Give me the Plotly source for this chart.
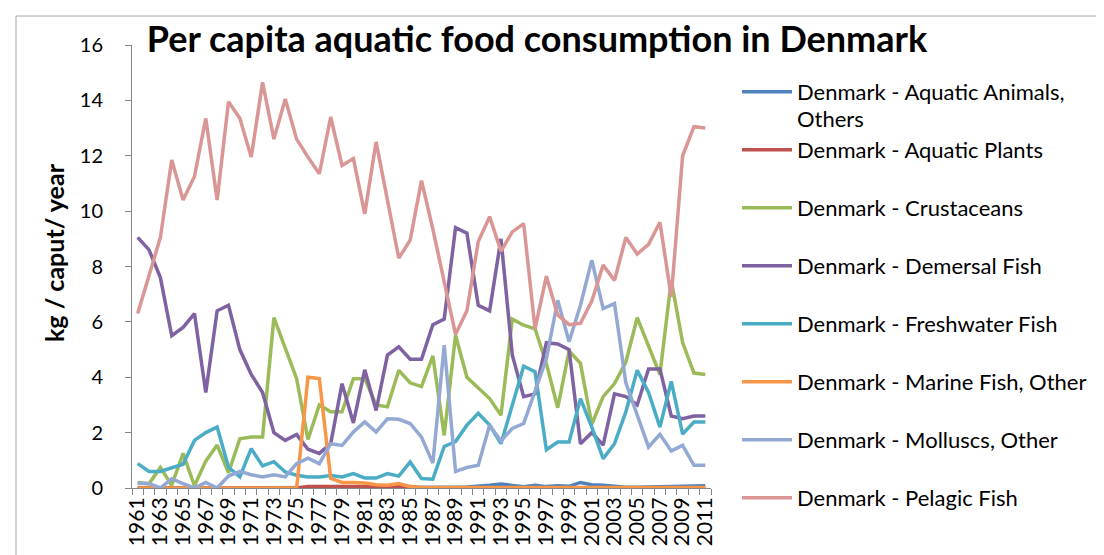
import plotly.graph_objects as go

years = list(range(1961, 2012))

aquatic_animals = [0]*15 + [0.03]*10 + [0.02, 0.02, 0.03, 0.03, 0.04, 0.06, 0.1, 0.14, 0.1, 0.05,
                                        0.1, 0.05, 0.08, 0.06, 0.2, 0.12, 0.1, 0.05, 0.03, 0.03,
                                        0.04, 0.05, 0.05, 0.07, 0.08, 0.08]
aquatic_plants = [0]*15 + [0.05]*10 + [0]*26
crustaceans = [0.2, 0.15, 0.74, 0.1, 1.25, 0.08, 0.97, 1.55, 0.55, 1.78,
               1.84, 1.84, 6.15, 5.07, 3.95, 1.75, 3.0, 2.75, 2.75, 3.95,
               3.95, 3.0, 2.93, 4.25, 3.8, 3.66, 4.77, 1.9, 5.52, 4.0,
               3.6, 3.23, 2.63, 6.1, 5.88, 5.75, 4.5, 2.9, 4.95, 4.5,
               2.3, 3.3, 3.77, 4.55, 6.15, 5.1, 4.1, 7.5, 5.25, 4.15,
               4.1]
demersal = [9.05, 8.6, 7.6, 5.5, 5.8, 6.3, 3.45, 6.4, 6.6, 5.0,
            4.1, 3.45, 2.0, 1.72, 1.93, 1.4, 1.25, 1.6, 3.77, 2.35,
            4.27, 2.8, 4.8, 5.1, 4.65, 4.65, 5.9, 6.1, 9.4, 9.2,
            6.6, 6.4, 9.0, 4.8, 3.3, 3.4, 5.25, 5.2, 5.0, 1.6,
            2.0, 1.55, 3.4, 3.3, 3.0, 4.3, 4.3, 2.6, 2.5, 2.6,
            2.6]
freshwater = [0.88, 0.6, 0.6, 0.74, 0.86, 1.72, 2.0, 2.2, 0.75, 0.4,
              1.42, 0.8, 0.95, 0.58, 0.46, 0.4, 0.4, 0.45, 0.4, 0.52,
              0.36, 0.36, 0.52, 0.43, 0.94, 0.34, 0.32, 1.5, 1.68, 2.27,
              2.7, 2.27, 1.6, 3.0, 4.4, 4.2, 1.38, 1.66, 1.66, 3.23,
              2.2, 1.06, 1.6, 2.75, 4.25, 3.45, 2.2, 3.85, 1.95, 2.38,
              2.38]
marine_other = [0]*15 + [4.0, 3.95, 0.35, 0.2, 0.2, 0.18, 0.12, 0.1, 0.16, 0.05] + [0.02]*26
molluscs = [0.16, 0.16, 0.0, 0.33, 0.16, 0.0, 0.2, 0.0, 0.43, 0.6,
            0.48, 0.4, 0.48, 0.4, 0.88, 1.08, 0.88, 1.6, 1.54, 2.02,
            2.39, 2.02, 2.5, 2.48, 2.33, 1.84, 0.9, 5.16, 0.6, 0.74,
            0.82, 2.27, 1.7, 2.15, 2.33, 3.47, 4.67, 6.78, 5.28, 6.6,
            8.23, 6.48, 6.66, 3.8, 2.6, 1.48, 1.94, 1.34, 1.54, 0.82,
            0.82]
pelagic = [6.3, 7.7, 9.05, 11.85, 10.4, 11.25, 13.35, 10.4, 13.95, 13.35,
           11.95, 14.65, 12.6, 14.05, 12.6, 11.95, 11.35, 13.4, 11.65, 11.9,
           9.9, 12.5, 10.4, 8.3, 8.95, 11.1, 9.35, 7.5, 5.55, 6.4,
           8.9, 9.8, 8.55, 9.25, 9.55, 5.75, 7.65, 6.25, 5.9, 5.95,
           6.75, 8.05, 7.5, 9.05, 8.45, 8.8, 9.6, 6.9, 12.0, 13.05,
           13.0]

series_names = ["Denmark - Aquatic Animals,", "Denmark - Aquatic Plants",
                "Denmark - Crustaceans", "Denmark - Demersal Fish",
                "Denmark - Freshwater Fish", "Denmark - Marine Fish, Other",
                "Denmark - Molluscs, Other", "Denmark - Pelagic Fish"]
first_name_continuation = "Others"
series_values = [aquatic_animals, aquatic_plants, crustaceans, demersal,
                 freshwater, marine_other, molluscs, pelagic]
colors = ["#4F81BD", "#C0504D", "#9BBB59", "#7E62A1",
          "#4BACC6", "#F79646", "#93A9D4", "#D99694"]

y_ticks = [0, 2, 4, 6, 8, 10, 12, 14, 16]
x_label_years = years[::2]

W, H = 1104, 555
L, R, T, B = 124, 703, 37, 480
LEG_FS = 22


def px_x(p):
    return (p - L) / (R - L)


def px_y(p):
    return (B - p) / (B - T)


fig = go.Figure()
for i, (name, vals, col) in enumerate(zip(series_names, series_values, colors)):
    fig.add_trace(go.Scatter(x=years, y=vals, mode="lines", name=name,
                             line=dict(color=col, width=3.5),
                             legendgroup=str(i)))

axis_col = "#868686"
fig.update_layout(
    width=W, height=H,
    margin=dict(l=L, r=W - R, t=T, b=H - B, pad=0),
    paper_bgcolor="white", plot_bgcolor="white",
    font=dict(family="Lato", size=20, color="black"),
    showlegend=True,
    legend=dict(x=px_x(729), xanchor="left",
                y=px_y(63), yanchor="top",
                font=dict(family="Lato", size=LEG_FS, color="black"),
                valign="middle", tracegroupgap=58 - (LEG_FS * 1.3 + 3),
                itemwidth=50, maxheight=H,
                bgcolor="rgba(0,0,0,0)"),
    title=dict(text="<b>Per capita aquatic food consumption in Denmark</b>",
               font=dict(family="Lato", size=36, color="black"),
               xref="paper", x=px_x(529), xanchor="center",
               yref="container", y=1 - 31 / H, yanchor="middle"),
    xaxis=dict(range=[1960.5, 2011.5], tickvals=x_label_years,
               ticktext=[str(y) for y in x_label_years],
               tickangle=-90, ticks="", showgrid=False, zeroline=False,
               showline=True, linecolor=axis_col, linewidth=1,
               tickfont=dict(family="Lato", size=21, color="black"),
               minor=dict(tickvals=[y + 0.5 for y in range(1960, 2012)],
                          ticks="outside", ticklen=6, tickcolor=axis_col,
                          showgrid=False)),
    yaxis=dict(range=[0, 16], tickvals=y_ticks, ticks="outside", ticklen=6,
               tickcolor=axis_col, showgrid=False, zeroline=False,
               showline=True, linecolor=axis_col, linewidth=1,
               ticklabelstandoff=18,
               tickfont=dict(family="Lato", size=20, color="black")),
)

fig.add_annotation(text="<b>kg / caput/ year</b>", xref="paper", yref="paper",
                   x=px_x(46), y=px_y(245), xanchor="center", yanchor="middle",
                   textangle=-90, showarrow=False,
                   font=dict(family="Lato", size=25, color="black"))

fig.add_annotation(text=first_name_continuation, xref="paper", yref="paper",
                   x=px_x(787), y=px_y(111), xanchor="left", yanchor="middle",
                   showarrow=False,
                   font=dict(family="Lato", size=LEG_FS, color="black"))

fig.add_shape(type="rect", xref="paper", yref="paper",
              x0=px_x(8), x1=px_x(1096), y0=px_y(549), y1=px_y(8),
              line=dict(color="#A6A6A6", width=1))

fig.write_html("out.html")
